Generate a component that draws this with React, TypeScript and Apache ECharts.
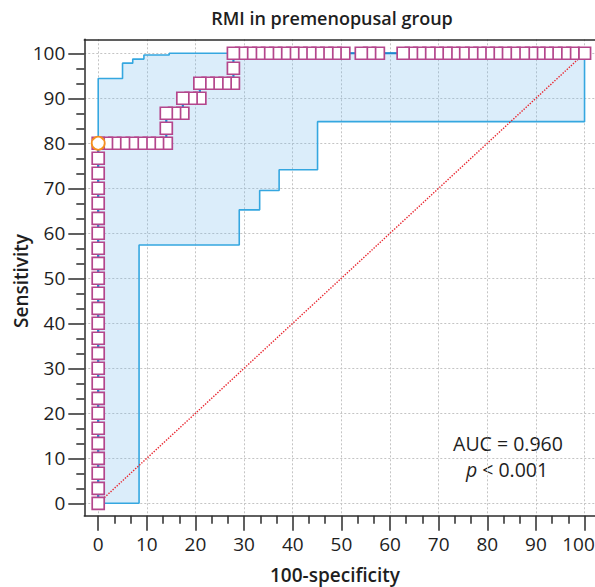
import React, { useEffect, useRef } from "react";
import * as echarts from "echarts";

// ---- data ----
const xTicks = [0, 10, 20, 30, 40, 50, 60, 70, 80, 90, 100];
const yTicks = [0, 10, 20, 30, 40, 50, 60, 70, 80, 90, 100];

// CI step corners (step drawn horizontally first, then vertically)
const ciUpper: [number, number][] = [
  [0, 0], [0, 94.4], [5.0, 97.8], [7.1, 98.7], [9.4, 99.6], [14.6, 100], [100, 100],
];
const ciLower: [number, number][] = [
  [0, 0], [8.4, 57.4], [29.0, 65.2], [33.2, 69.5], [37.2, 74.1], [45.1, 84.8], [100, 100],
];

// empirical ROC points (100-specificity, sensitivity)
const rocColumn: [number, number][] = [
  [0, 0], [0, 3.33], [0, 6.67], [0, 10], [0, 13.33], [0, 16.67], [0, 20], [0, 23.33],
  [0, 26.67], [0, 30], [0, 33.33], [0, 36.67], [0, 40], [0, 43.33], [0, 46.67], [0, 50],
  [0, 53.33], [0, 56.67], [0, 60], [0, 63.33], [0, 66.67], [0, 70], [0, 73.33], [0, 76.67],
  [0, 80],
];
const rocSteps: [number, number][] = [
  [1.7, 80], [3.4, 80], [5.2, 80], [7.0, 80], [8.8, 80], [10.5, 80], [12.2, 80], [14.0, 80],
  [14.0, 83.33],
  [14.0, 86.67], [15.7, 86.67], [17.4, 86.67],
  [17.4, 90], [19.1, 90], [20.9, 90],
  [20.9, 93.33], [22.6, 93.33], [24.4, 93.33], [26.1, 93.33], [27.8, 93.33],
  [27.8, 96.67],
];
const rocTop: [number, number][] = [
  [27.8, 100], [29.5, 100], [31.3, 100], [33.0, 100], [34.8, 100], [36.5, 100], [38.3, 100],
  [40.0, 100], [41.7, 100], [43.5, 100], [45.2, 100], [47.0, 100], [48.7, 100], [50.5, 100],
  [54.1, 100], [55.8, 100], [57.6, 100],
  [62.7, 100], [64.4, 100], [66.1, 100], [68.0, 100], [69.7, 100], [71.5, 100], [73.1, 100],
  [75.0, 100], [76.8, 100], [78.5, 100], [80.2, 100], [81.9, 100], [83.7, 100], [85.5, 100],
  [87.4, 100], [89.1, 100], [90.6, 100], [92.3, 100], [94.1, 100], [95.9, 100], [97.6, 100],
  [100, 100],
];
const optimalPoint: [number, number][] = [[0, 80]];
const diagonal: [number, number][] = [[0, 0], [100, 100]];

const aucText = "AUC = 0.960";
const pText = "{i|p} < 0.001";

// ---- helpers ----
function stepEnd(pts: [number, number][]): [number, number][] {
  const out: [number, number][] = [pts[0]];
  for (let i = 1; i < pts.length; i++) {
    out.push([pts[i][0], pts[i - 1][1]]);
    out.push(pts[i]);
  }
  return out;
}

const FONT = "'Open Sans', 'Noto Sans', sans-serif";
const AXIS_COLOR = "#2b2b2b";
const TEXT_COLOR = "#1e1e1e";
const X_MIN = -2.86;
const X_MAX = 104;
const LABEL_SIZE = 19;

export default function App() {
  const ref = useRef<HTMLDivElement>(null);

  useEffect(() => {
    if (!ref.current) return;
    const chart = echarts.init(ref.current, null, { renderer: "svg" });

    const upperLine = stepEnd(ciUpper);
    const lowerLine = stepEnd(ciLower);
    const band = upperLine.concat(lowerLine.slice().reverse());
    const rocAll = rocColumn.concat(rocSteps, rocTop);
    const markersDrawOrder = rocAll.slice().reverse();
    const lastX = xTicks[xTicks.length - 1];

    const option: any = {
      animation: false,
      backgroundColor: "#ffffff",
      grid: {
        left: 84.3,
        top: 39.3,
        right: 0,
        bottom: 71.3,
        show: false,
        containLabel: false,
      },
      xAxis: [
        {
          type: "value",
          min: X_MIN,
          max: X_MAX,
          splitNumber: 10,
          minInterval: 10,
          maxInterval: 10,
          position: "bottom",
          axisLine: { show: true, onZero: false, lineStyle: { color: AXIS_COLOR, width: 1.5 } },
          axisTick: {
            show: true,
            inside: false,
            length: 15,
            customValues: xTicks,
            lineStyle: { color: AXIS_COLOR, width: 1.5 },
          },
          minorTick: { show: true, splitNumber: 3, length: 8, lineStyle: { color: AXIS_COLOR, width: 1.5 } },
          axisLabel: {
            customValues: xTicks,
            margin: 19,
            fontSize: LABEL_SIZE,
            fontFamily: FONT,
            color: TEXT_COLOR,
            formatter: (v: number) => (v === lastX ? "{last|" + v + "}" : String(v)),
            rich: {
              last: {
                fontSize: LABEL_SIZE,
                fontFamily: FONT,
                color: TEXT_COLOR,
                padding: [0, 12, 0, 0],
              },
            },
          },
          splitLine: { show: true, lineStyle: { type: [2, 2], color: "#c4c4c4", width: 1 } },
        },
        {
          type: "value",
          min: X_MIN,
          max: X_MAX,
          position: "top",
          axisLine: { show: true, onZero: false, lineStyle: { color: AXIS_COLOR, width: 1.5 } },
          axisTick: { show: false },
          axisLabel: { show: false },
          splitLine: { show: false },
        },
      ],
      yAxis: {
        type: "value",
        min: -2.76,
        max: 103.1,
        splitNumber: 10,
        minInterval: 10,
        maxInterval: 10,
        position: "left",
        axisLine: { show: true, onZero: false, lineStyle: { color: AXIS_COLOR, width: 1.5 } },
        axisTick: {
          show: true,
          inside: false,
          length: 16,
          customValues: yTicks,
          lineStyle: { color: AXIS_COLOR, width: 1.5 },
        },
        minorTick: { show: true, splitNumber: 3, length: 8, lineStyle: { color: AXIS_COLOR, width: 1.5 } },
        axisLabel: {
          customValues: yTicks,
          margin: 19,
          fontSize: LABEL_SIZE,
          fontFamily: FONT,
          color: TEXT_COLOR,
        },
        splitLine: { show: true, lineStyle: { type: [2, 2], color: "#c4c4c4", width: 1 } },
      },
      series: [
        {
          type: "custom",
          silent: true,
          data: [[0, 0]],
          encode: { x: 0, y: 1 },
          renderItem: (_params: any, api: any) => {
            const pts = band.map((p) => api.coord(p));
            return {
              type: "polygon",
              shape: { points: pts },
              style: { fill: "rgba(110,185,235,0.25)", stroke: "none" },
            };
          },
          z: 1,
        },
        {
          type: "line",
          data: upperLine,
          showSymbol: false,
          silent: true,
          lineStyle: { color: "#35a7e0", width: 1.6 },
          z: 2,
        },
        {
          type: "line",
          data: lowerLine,
          showSymbol: false,
          silent: true,
          lineStyle: { color: "#35a7e0", width: 1.6 },
          z: 2,
        },
        {
          type: "line",
          data: diagonal,
          showSymbol: false,
          silent: true,
          lineStyle: { color: "#e8262f", width: 1.4, type: [1.4, 1.4] },
          z: 3,
        },
        {
          type: "line",
          data: rocAll,
          showSymbol: false,
          silent: true,
          lineStyle: { color: "#1f86cf", width: 2.2 },
          z: 4,
        },
        {
          type: "scatter",
          data: markersDrawOrder,
          symbol: "rect",
          symbolSize: 12,
          silent: true,
          clip: false,
          itemStyle: { color: "#ffffff", borderColor: "#b4468c", borderWidth: 1.7, opacity: 1 },
          z: 5,
        },
        {
          type: "scatter",
          data: optimalPoint,
          symbol: "circle",
          symbolSize: 13,
          silent: true,
          itemStyle: { color: "#ffffff", borderColor: "#f5901e", borderWidth: 1.8, opacity: 1 },
          z: 6,
        },
      ],
      graphic: [
        {
          type: "text",
          x: 332,
          y: 18,
          style: {
            text: "RMI in premenopusal group",
            fontSize: 18,
            fontWeight: 600,
            fontFamily: FONT,
            fill: TEXT_COLOR,
            align: "center",
            verticalAlign: "middle",
          },
        },
        {
          type: "text",
          x: 335,
          y: 575,
          style: {
            text: "100-specificity",
            fontSize: 19,
            fontWeight: 600,
            fontFamily: FONT,
            fill: TEXT_COLOR,
            align: "center",
            verticalAlign: "middle",
          },
        },
        {
          type: "text",
          x: 21,
          y: 281,
          rotation: Math.PI / 2,
          style: {
            text: "Sensitivity",
            fontSize: 19,
            fontWeight: 600,
            fontFamily: FONT,
            fill: TEXT_COLOR,
            align: "center",
            verticalAlign: "middle",
          },
        },
        {
          type: "text",
          x: 508,
          y: 443,
          style: {
            text: aucText,
            fontSize: 19.5,
            fontFamily: FONT,
            fill: TEXT_COLOR,
            align: "center",
            verticalAlign: "middle",
          },
        },
        {
          type: "text",
          x: 507,
          y: 469,
          style: {
            text: pText,
            fontSize: 19.5,
            fontFamily: FONT,
            fill: TEXT_COLOR,
            align: "center",
            verticalAlign: "middle",
            rich: {
              i: { fontStyle: "italic", fontSize: 19.5, fontFamily: FONT, fill: TEXT_COLOR },
            },
          },
        },
      ],
    };

    chart.setOption(option);
    return () => chart.dispose();
  }, []);

  return (
    <div
      style={{
        position: "fixed",
        left: 0,
        top: 0,
        width: 595,
        height: 587,
        overflow: "hidden",
        background: "#fff",
      }}
    >
      <div ref={ref} style={{ width: 604, height: 587 }} />
    </div>
  );
}
